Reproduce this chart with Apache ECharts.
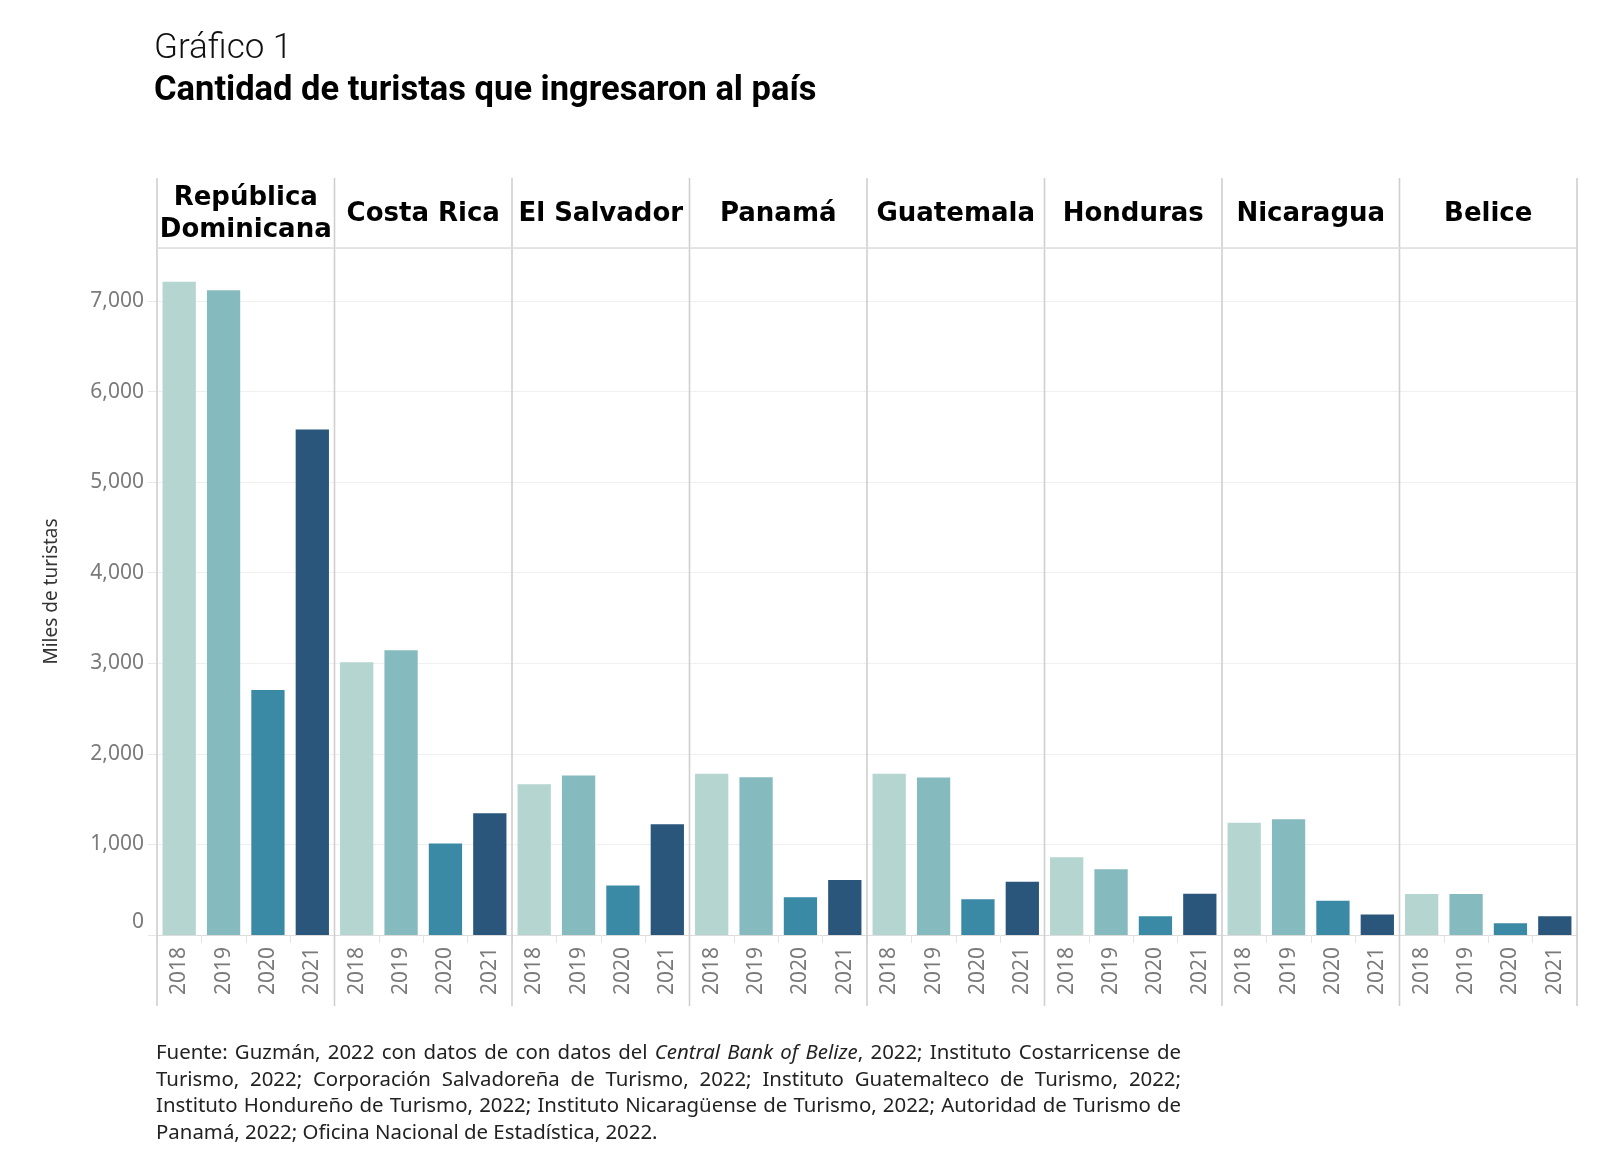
<!DOCTYPE html>
<html>
<head>
<meta charset="utf-8">
<script src="https://cdn.jsdelivr.net/npm/echarts@6/dist/echarts.min.js"></script>
<style>
  html, body { margin: 0; padding: 0; background: #fff; }
  #chart { width: 1600px; height: 1169px; }
</style>
</head>
<body>
<div id="chart"></div>
<script>
// datos (miles de turistas)
const years = ['2018', '2019', '2020', '2021'];
const countries = ['República\nDominicana', 'Costa Rica', 'El Salvador', 'Panamá', 'Guatemala', 'Honduras', 'Nicaragua', 'Belice'];
const republicaDominicana = [7213, 7118, 2705, 5582];
const costaRica = [3011, 3145, 1010, 1345];
const elSalvador = [1664, 1761, 547, 1222];
const panama = [1781, 1742, 416, 607];
const guatemala = [1781, 1740, 394, 589];
const honduras = [858, 725, 206, 455];
const nicaragua = [1240, 1277, 379, 225];
const belice = [453, 453, 129, 206];
const yTicks = [0, 1000, 2000, 3000, 4000, 5000, 6000, 7000];

const seriesValues = [republicaDominicana, costaRica, elSalvador, panama, guatemala, honduras, nicaragua, belice];
const yearColors = ['#b5d5d0', '#85babe', '#3a8aa6', '#2a567c'];

const footLines = [
  'Fuente: Guzmán, 2022 con datos de con datos del *Central Bank of Belize*, 2022; Instituto Costarricense de',
  'Turismo, 2022; Corporación Salvadoreña de Turismo, 2022; Instituto Guatemalteco de Turismo, 2022;',
  'Instituto Hondureño de Turismo, 2022; Instituto Nicaragüense de Turismo, 2022; Autoridad de Turismo de',
  'Panamá, 2022; Oficina Nacional de Estadística, 2022.'
];

// layout
const LEFT = 157, FW = 177.5, TOP = 248, BASE = 935;
const STRIP_TOP = 178, FRAME_BOTTOM = 1006;
const YMAX = 7585;
const RIGHT = LEFT + FW * countries.length;

const myChart = echarts.init(document.getElementById('chart'));

const grids = [], xAxes = [], yAxes = [], series = [];
countries.forEach((c, i) => {
  grids.push({left: LEFT + i * FW, top: TOP, width: FW, height: BASE - TOP});
  xAxes.push({
    type: 'category', gridIndex: i, data: years,
    axisLine: {lineStyle: {color: '#dcdcdc', width: 1.2}},
    axisTick: {show: true, length: 8, lineStyle: {color: '#e4e4e4'}},
    axisLabel: {rotate: 90, margin: 12, fontSize: 21, color: '#7a7a7a', fontFamily: 'Noto Sans'}
  });
  yAxes.push({
    type: 'value', gridIndex: i, min: 0, max: YMAX, interval: 1000,
    name: i === 0 ? 'Miles de turistas' : '',
    nameLocation: 'middle', nameGap: 96,
    nameTextStyle: {fontSize: 19, color: '#333', fontFamily: 'Noto Sans'},
    axisLine: {show: false},
    axisTick: {show: i === 0, length: 9, lineStyle: {color: '#e8e8e8'}},
    splitLine: {lineStyle: {color: '#efefef', width: 1.2}},
    axisLabel: {
      show: i === 0, showMaxLabel: false, margin: 13,
      fontSize: 21, color: '#7a7a7a', fontFamily: 'Noto Sans',
      formatter: v => yTicks.indexOf(v) < 0 ? '' : (v === 0 ? '{z|0}' : v.toLocaleString('en-US')),
      rich: {z: {fontSize: 21, color: '#7a7a7a', fontFamily: 'Noto Sans', padding: [0, 0, 26, 0]}}
    }
  });
  series.push({
    type: 'bar', xAxisIndex: i, yAxisIndex: i, barCategoryGap: '25%',
    data: seriesValues[i].map((v, j) => ({value: v, itemStyle: {color: yearColors[j]}})),
    silent: true
  });
});

// facet frame and strip labels
const graphic = [];
for (let i = 0; i <= countries.length; i++) {
  const x = LEFT + i * FW;
  graphic.push({type: 'line', shape: {x1: x, y1: STRIP_TOP, x2: x, y2: FRAME_BOTTOM},
    style: {stroke: '#cfcfcf', lineWidth: 1.6}, z: 10});
}
graphic.push({type: 'line', shape: {x1: LEFT, y1: TOP, x2: RIGHT, y2: TOP},
  style: {stroke: '#dedede', lineWidth: 1.6}, z: 10});
countries.forEach((c, i) => {
  graphic.push({type: 'text', x: LEFT + i * FW + FW / 2, y: (STRIP_TOP + TOP) / 2 + 1,
    style: {text: c, fill: '#000', font: 'bold 26px "DejaVu Sans"', lineHeight: 32,
      align: 'center', verticalAlign: 'middle'}, z: 10});
});

// titulo
graphic.push({type: 'text', x: 154, y: 49,
  style: {text: 'Gráfico 1', fill: '#111', font: '300 35px Roboto', verticalAlign: 'middle'}});
graphic.push({type: 'text', x: 154, y: 91,
  style: {text: 'Cantidad de turistas que ingresaron al país', fill: '#000', font: 'bold 34.5px Roboto', verticalAlign: 'middle'}});

// nota al pie, justificada
const FOOT_X = 156, FOOT_R = 1181, FOOT_Y = 1053, FOOT_LH = 26.7, FOOT_FS = 20.4;
const fontN = FOOT_FS + 'px "Noto Sans"', fontI = 'italic ' + FOOT_FS + 'px "Noto Sans"';
const ctx = document.createElement('canvas').getContext('2d');
const measure = (t, it) => { ctx.font = it ? fontI : fontN; return ctx.measureText(t).width; };
let italic = false;
footLines.forEach((line, li) => {
  const words = line.split(' ').map(w => {
    const segs = [];
    let cur = '';
    for (const ch of w) {
      if (ch === '*') { if (cur) segs.push({t: cur, it: italic}); cur = ''; italic = !italic; }
      else cur += ch;
    }
    if (cur) segs.push({t: cur, it: italic});
    const width = segs.reduce((s, g) => s + measure(g.t, g.it), 0);
    return {segs, width};
  });
  const total = words.reduce((s, w) => s + w.width, 0);
  const last = li === footLines.length - 1;
  const gap = last ? measure(' ', false) : (FOOT_R - FOOT_X - total) / (words.length - 1);
  let x = FOOT_X;
  words.forEach(w => {
    graphic.push({type: 'text', x: x, y: FOOT_Y + li * FOOT_LH,
      style: {
        text: w.segs.map(g => '{' + (g.it ? 'i' : 'n') + '|' + g.t + '}').join(''),
        verticalAlign: 'middle',
        rich: {
          n: {font: fontN, fill: '#222'},
          i: {font: fontI, fill: '#222'}
        }
      }});
    x += w.width + gap;
  });
});

myChart.setOption({
  animation: false,
  backgroundColor: '#fff',
  grid: grids,
  xAxis: xAxes,
  yAxis: yAxes,
  series: series,
  graphic: graphic
});
</script>
</body>
</html>
